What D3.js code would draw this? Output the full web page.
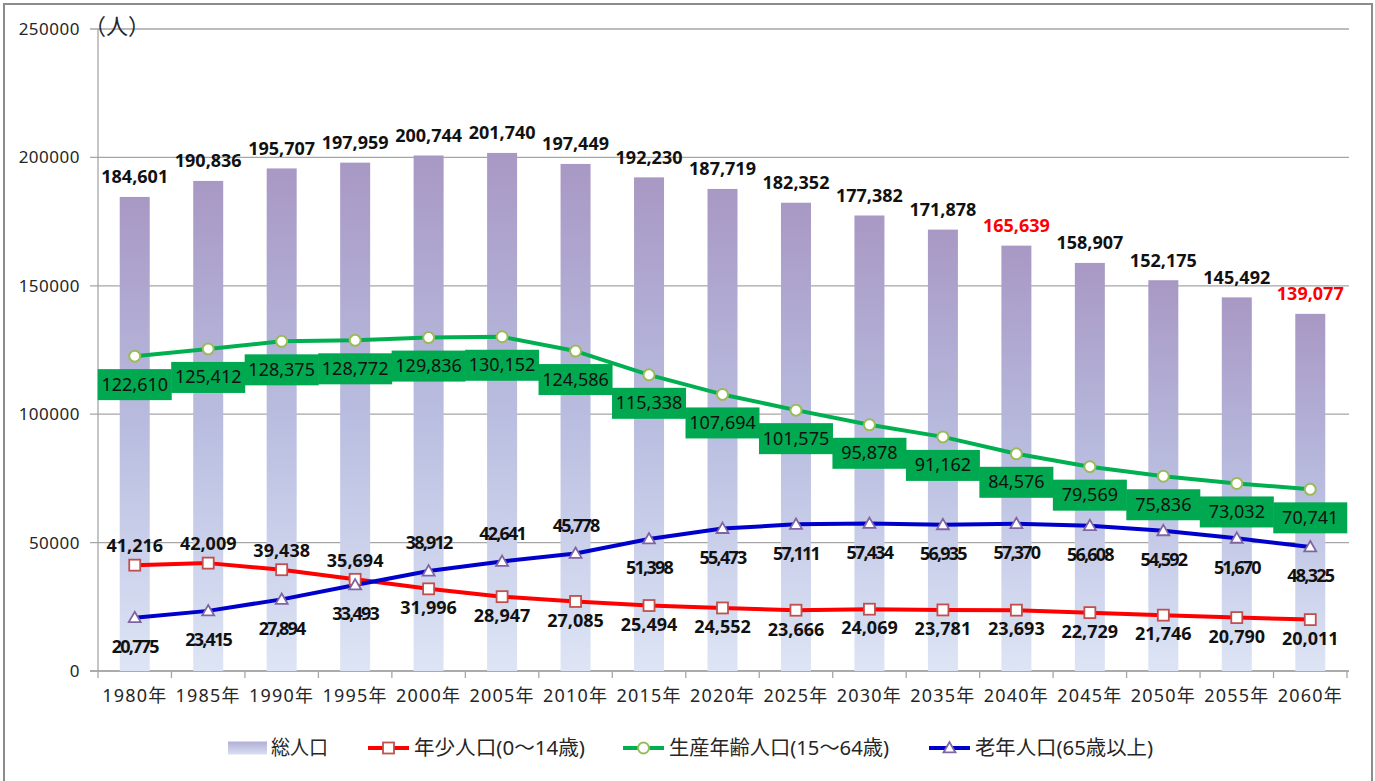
<!DOCTYPE html>
<html>
<head>
<meta charset="utf-8">
<script src="https://cdn.jsdelivr.net/npm/d3@7"></script>
<style>
  body { margin: 0; background: #fff; }
  text { font-family: "Noto Sans", "Noto Sans CJK JP", sans-serif; }
</style>
</head>
<body>
<div id="chart"></div>
<script>
// data
const years = ["1980年", "1985年", "1990年", "1995年", "2000年", "2005年", "2010年", "2015年", "2020年",
  "2025年", "2030年", "2035年", "2040年", "2045年", "2050年", "2055年", "2060年"];
const total = [184601, 190836, 195707, 197959, 200744, 201740, 197449, 192230, 187719,
  182352, 177382, 171878, 165639, 158907, 152175, 145492, 139077];
const youth = [41216, 42009, 39438, 35694, 31996, 28947, 27085, 25494, 24552,
  23666, 24069, 23781, 23693, 22729, 21746, 20790, 20011];
const working = [122610, 125412, 128375, 128772, 129836, 130152, 124586, 115338, 107694,
  101575, 95878, 91162, 84576, 79569, 75836, 73032, 70741];
const elderly = [20775, 23415, 27894, 33493, 38912, 42641, 45778, 51398, 55473,
  57111, 57434, 56935, 57370, 56608, 54592, 51670, 48325];
const yTicks = [0, 50000, 100000, 150000, 200000, 250000];
const redTotals = ["2040年", "2060年"];
const legendLabels = ["総人口", "年少人口(0～14歳)", "生産年齢人口(15～64歳)", "老年人口(65歳以上)"];

const W = 1375, H = 781;
const svg = d3.select("#chart").append("svg")
  .attr("width", W).attr("height", H);

// outer frame
svg.append("rect")
  .attr("x", 4).attr("y", 4).attr("width", 1368).attr("height", 790)
  .attr("fill", "none").attr("stroke", "#8c8c8c").attr("stroke-width", 2);

const x = d3.scaleBand().domain(years).range([98, 1347]).padding(0);
const y = d3.scaleLinear().domain([0, 250000]).range([671, 29]);
const cx = d => x(d) + x.bandwidth() / 2;
const fmt = d3.format(",");

// bar gradient
const defs = svg.append("defs");
const grad = defs.append("linearGradient").attr("id", "barGrad")
  .attr("x1", 0).attr("y1", 0).attr("x2", 0).attr("y2", 1);
grad.append("stop").attr("offset", "0%").attr("stop-color", "#a898c4");
grad.append("stop").attr("offset", "50%").attr("stop-color", "#b9bde0");
grad.append("stop").attr("offset", "100%").attr("stop-color", "#dde5f5");
const lgGrad = defs.append("linearGradient").attr("id", "legGrad")
  .attr("x1", 0).attr("y1", 0).attr("x2", 0).attr("y2", 1);
lgGrad.append("stop").attr("offset", "0%").attr("stop-color", "#b3aed6");
lgGrad.append("stop").attr("offset", "100%").attr("stop-color", "#d8dff2");

// gridlines
svg.append("g").selectAll("line").data(yTicks).enter().append("line")
  .attr("x1", 90).attr("x2", 1349)
  .attr("y1", d => y(d)).attr("y2", d => y(d))
  .attr("stroke", "#a6a6a6").attr("stroke-width", 1.3);

// y axis
svg.append("line").attr("x1", 98).attr("x2", 98).attr("y1", y(250000)).attr("y2", y(0))
  .attr("stroke", "#a6a6a6").attr("stroke-width", 1.3);
svg.append("g").selectAll("text").data(yTicks).enter().append("text")
  .attr("x", 80).attr("y", d => y(d)).attr("dy", "0.35em")
  .attr("text-anchor", "end").attr("font-size", 17).attr("letter-spacing", "0.5px")
  .attr("fill", "#262626")
  .text(d => d);
svg.append("text").attr("x", 84).attr("y", y(250000) - 3).attr("dy", "0.35em")
  .attr("font-size", 22).attr("font-family", "'Noto Sans CJK JP', sans-serif")
  .attr("fill", "#262626").text("（人）");

// x axis
const xAxis = svg.append("g").attr("transform", `translate(0,${y(0)})`)
  .call(d3.axisBottom(x).tickSize(0).tickPadding(18));
xAxis.select(".domain").attr("stroke", "#a6a6a6").attr("stroke-width", 1.3)
  .attr("d", "M90,0H1349");
xAxis.selectAll("text").attr("font-size", 18).attr("fill", "#262626")
  .attr("letter-spacing", "1.2px")
  .attr("font-family", "'Noto Sans', 'Noto Sans CJK JP', sans-serif");
xAxis.selectAll(".bound").data(years.concat(["end"])).enter().append("line")
  .attr("x1", (d, i) => 98 + i * x.bandwidth()).attr("x2", (d, i) => 98 + i * x.bandwidth())
  .attr("y1", 0).attr("y2", 7).attr("stroke", "#a6a6a6").attr("stroke-width", 1.3);

// bars
const barW = 30;
svg.append("g").selectAll("rect").data(total).enter().append("rect")
  .attr("x", (d, i) => cx(years[i]) - barW / 2)
  .attr("y", d => y(d))
  .attr("width", barW)
  .attr("height", d => y(0) - y(d))
  .attr("fill", "url(#barGrad)");

// lines
const line = d3.line().x((d, i) => cx(years[i])).y(d => y(d));
const youthS = { vals: youth, color: "#ff0000", marker: "square", mStroke: "#c0504d" };
const workingS = { vals: working, color: "#00b050", marker: "circle", mStroke: "#9bbb59" };
const elderlyS = { vals: elderly, color: "#0000cc", marker: "triangle", mStroke: "#8064a2" };
const series = [workingS, youthS, elderlyS];
series.forEach(s => {
  svg.append("path").datum(s.vals).attr("d", line)
    .attr("fill", "none").attr("stroke", s.color).attr("stroke-width", 4)
    .attr("stroke-linejoin", "round");
});
function drawMarker(g, kind, stroke, px, py) {
  if (kind === "circle") {
    g.append("circle").attr("cx", px).attr("cy", py).attr("r", 5.5)
      .attr("fill", "#fff").attr("stroke", stroke).attr("stroke-width", 2);
  } else if (kind === "square") {
    g.append("rect").attr("x", px - 5.5).attr("y", py - 5.5).attr("width", 11).attr("height", 11)
      .attr("fill", "#fff").attr("stroke", stroke).attr("stroke-width", 1.8);
  } else {
    g.append("path").attr("d", d3.symbol(d3.symbolTriangle, 62)())
      .attr("transform", `translate(${px},${py + 1})`)
      .attr("fill", "#fff").attr("stroke", stroke).attr("stroke-width", 1.8);
  }
}
const markers = svg.append("g");
series.forEach(s => {
  s.vals.forEach((v, i) => drawMarker(markers, s.marker, s.mStroke, cx(years[i]), y(v)));
});

// total labels
svg.append("g").selectAll("text").data(total).enter().append("text")
  .attr("x", (d, i) => cx(years[i]))
  .attr("y", d => y(d) - 20).attr("dy", "0.35em")
  .attr("text-anchor", "middle").attr("font-size", 18).attr("font-weight", "bold")
  .attr("fill", (d, i) => redTotals.includes(years[i]) ? "#ff0000" : "#111")
  .text(d => fmt(d));

// working-age labels in green boxes
const wl = svg.append("g");
working.forEach((v, i) => {
  const px = cx(years[i]), py = y(v) + 28;
  wl.append("rect").attr("x", px - 37).attr("y", py - 15).attr("width", 74).attr("height", 31)
    .attr("fill", "#00a84f");
  wl.append("text").attr("x", px).attr("y", py).attr("dy", "0.36em")
    .attr("text-anchor", "middle").attr("font-size", 18).attr("fill", "#111")
    .text(fmt(v));
});

// youth labels: above for the first four, below after
svg.append("g").selectAll("text").data(youth).enter().append("text")
  .attr("x", (d, i) => cx(years[i]))
  .attr("y", (d, i) => i < 4 ? y(d) - 19 : y(d) + 19).attr("dy", "0.35em")
  .attr("text-anchor", "middle").attr("font-size", 18).attr("font-weight", "bold")
  .attr("fill", "#111").text(d => fmt(d));

// elderly labels: below, except 2000-2010 above
svg.append("g").selectAll("text").data(elderly).enter().append("text")
  .attr("x", (d, i) => cx(years[i]))
  .attr("y", (d, i) => (i >= 4 && i <= 6) ? y(d) - 28 : y(d) + 29).attr("dy", "0.35em")
  .attr("text-anchor", "middle").attr("font-size", 18).attr("font-weight", "bold")
  .attr("letter-spacing", "-1.8px")
  .attr("fill", "#111").text(d => fmt(d));

// legend
const legY = 748;
const legX = [228, 368, 623, 929];
const legWidths = [57, 171, 220, 178];
const leg = svg.append("g");
leg.append("rect").attr("x", legX[0]).attr("y", legY - 6.5).attr("width", 39).attr("height", 13)
  .attr("fill", "url(#legGrad)");
[youthS, workingS, elderlyS].forEach((s, k) => {
  const lx = legX[k + 1];
  leg.append("line").attr("x1", lx).attr("x2", lx + 41).attr("y1", legY).attr("y2", legY)
    .attr("stroke", s.color).attr("stroke-width", 4);
  drawMarker(leg, s.marker, s.mStroke, lx + 20.5, legY);
});
legendLabels.forEach((t, k) => {
  leg.append("text").attr("x", legX[k] + (k === 0 ? 43 : 46)).attr("y", legY).attr("dy", "0.36em")
    .attr("font-size", 20).attr("fill", "#262626")
    .attr("textLength", legWidths[k]).attr("lengthAdjust", "spacingAndGlyphs")
    .text(t);
});
</script>
</body>
</html>
